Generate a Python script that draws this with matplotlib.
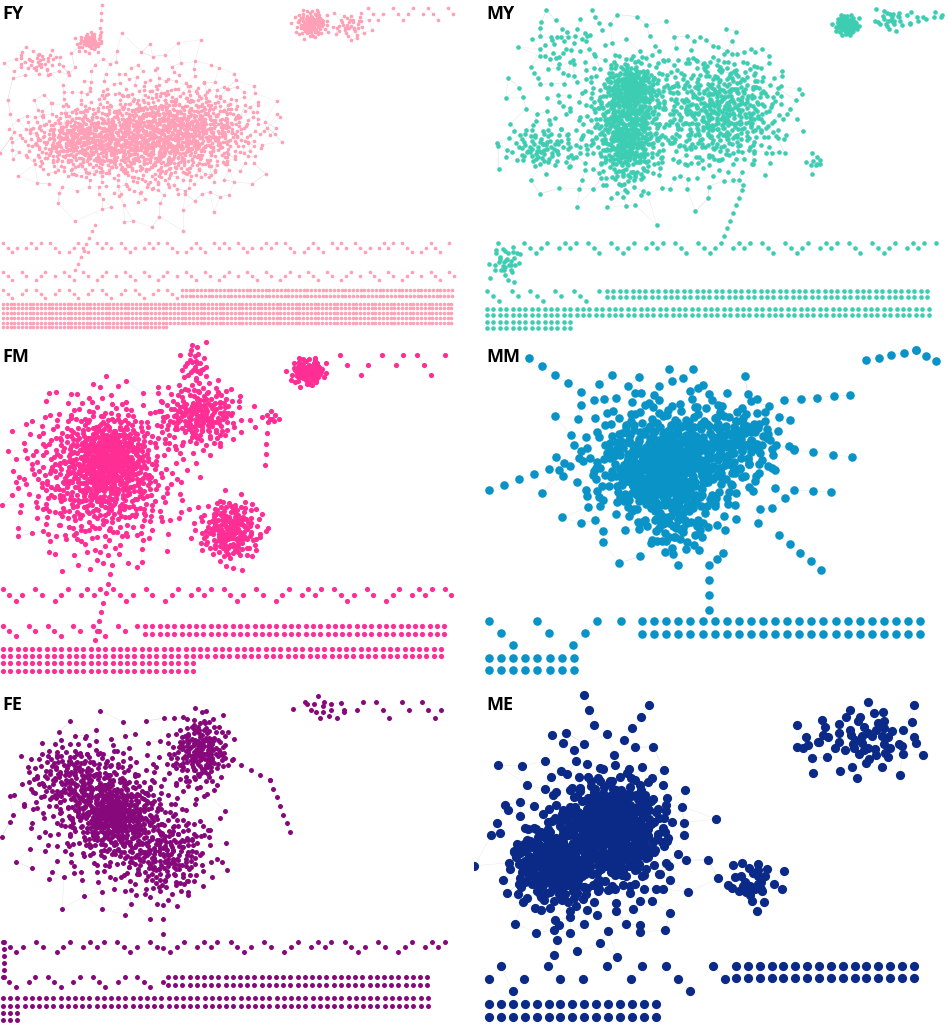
import numpy as np
import matplotlib.pyplot as plt
from matplotlib.collections import LineCollection

# panel order: name, colour, node diameter (px)
names = ["FY", "MY", "FM", "MM", "FE", "ME"]
colors = ["#FFA0B6", "#3CCDB2", "#FF2E95", "#0A93C7", "#87087A", "#0B2A88"]
node_px = [3.6, 4.6, 5.2, 8.6, 5.0, 9.2]
label_x = [2, 12, 2, 12, 2, 12]
label_y = [14, 14, 17, 17, 25, 25]

# dense components: (cx, cy, sx, sy, n nodes)
fy_blobs = [(80, 140, 30, 16, 400), (150, 140, 38, 22, 600), (195, 128, 35, 20, 420),
            (140, 132, 58, 40, 480), (90, 42, 7, 5, 55), (38, 62, 14, 7, 45),
            (311, 24, 8, 7, 110), (350, 26, 10, 7, 40)]
my_blobs = [(158, 88, 14, 14, 200), (152, 135, 16, 26, 360), (250, 110, 32, 30, 450),
            (68, 148, 20, 11, 80), (165, 115, 62, 43, 380), (88, 45, 18, 16, 40),
            (373, 25, 6, 5, 80), (416, 20, 9, 6, 25), (340, 162, 5, 5, 10),
            (32, 262, 9, 10, 35)]
fm_blobs = [(110, 118, 18, 20, 260), (100, 135, 40, 40, 650), (200, 75, 22, 17, 200),
            (230, 190, 16, 16, 190), (195, 25, 7, 12, 30), (272, 77, 4, 4, 8),
            (308, 32, 9, 7, 90)]
mm_blobs = [(190, 125, 30, 22, 220), (195, 122, 52, 42, 360), (265, 100, 22, 20, 90),
            (200, 178, 18, 20, 60)]
fe_blobs = [(115, 135, 20, 18, 300), (75, 100, 25, 20, 200), (165, 175, 25, 22, 200),
            (115, 135, 47, 42, 350), (200, 70, 15, 18, 180), (322, 28, 12, 8, 12)]
me_blobs = [(140, 148, 28, 28, 250), (78, 185, 20, 20, 170), (120, 165, 50, 48, 230),
            (280, 203, 15, 12, 30), (390, 60, 32, 18, 65)]

# chains: (x0, y0, x1, y1, n nodes)
fy_chains = [(95, 225, 75, 270, 8), (100, 35, 102, 5, 5)]
my_chains = [(428, 25, 468, 15, 6), (268, 190, 250, 236, 7), (118, 10, 128, 30, 4)]
fm_chains = [(112, 225, 95, 300, 9), (268, 82, 265, 125, 5)]
mm_chains = [(105, 118, 15, 150, 7), (120, 60, 55, 18, 6), (235, 225, 235, 270, 4),
             (320, 110, 378, 117, 4), (320, 150, 357, 152, 3), (305, 195, 347, 230, 5),
             (310, 60, 376, 55, 5), (392, 20, 442, 10, 5), (442, 10, 462, 21, 3)]
fe_chains = [(222, 75, 270, 100, 6), (270, 100, 290, 152, 7), (163, 225, 163, 268, 4),
             (4, 262, 4, 297, 6)]
me_chains = [(150, 60, 175, 25, 4), (100, 70, 78, 55, 3), (85, 245, 80, 275, 3),
             (120, 45, 110, 15, 3), (345, 62, 323, 67, 3)]

# zigzag rows of small components: (y, x0, x1, step, amp, shape) '-' = gap
fy_zig = [(243, 3, 450, 4.7, 4.5, "0121-1010-012-21012-0101-"),
          (272, 3, 455, 4.7, 4.0, "012-01-210-1-"),
          (290, 3, 178, 4.7, 4.0, "012-10-"),
          (8, 368, 455, 5.0, 6.0, "0121-01210-1012-")]
my_zig = [(243, 50, 462, 5.8, 5.0, "01210-1010-012-"),
          (291, 13, 130, 6.2, 5.0, "012-01-"),
          (12, 425, 470, 6.0, 5.0, "1-01")]
fm_zig = [(249, 3, 452, 6.5, 6.0, "0121-01-210-1010-"),
          (286, 3, 140, 6.4, 5.0, "012-01-"),
          (15, 340, 445, 7.0, 10.0, "01-21-0-10-012-")]
mm_zig = [(281, 15, 158, 12.0, 12.0, "012-01-210-01-012-012")]
fe_zig = [(262, 3, 448, 6.7, 5.0, "0121-01-210-1010-"),
          (297, 3, 165, 6.4, 5.0, "012-10-"),
          (22, 305, 443, 6.5, 8.0, "01-0121-10-012-")]
me_zig = [(286, 15, 255, 11.8, 12.5, "1021-01-1-0-10-012-01-1-012")]

# vertical pairs: (y_top, y_bottom, x0, x1, step)
fy_pairs = [(290, 295.5, 182, 453, 3.8)]
my_pairs = [(291, 297, 133, 456, 6.4)]
fm_pairs = [(286, 294, 145, 445, 7.3)]
mm_pairs = [(281, 294, 168, 458, 12.1)]
fe_pairs = [(297, 305, 168, 434, 7.2)]
me_pairs = [(286, 298, 262, 440, 11.85)]

# isolated nodes: (y, x0, x1, step)
fy_grid = [(303.5, 3, 452, 3.8), (308, 3, 452, 3.8), (313, 3, 452, 3.8),
           (318, 3, 452, 3.8), (322.5, 3, 452, 3.8), (327, 3, 168, 3.8)]
my_grid = [(309, 13, 456, 6.4), (315, 13, 456, 6.4), (322, 13, 98, 6.4), (328, 13, 98, 6.4)]
fm_grid = [(308.5, 3, 445, 7.3), (316, 3, 445, 7.3), (323, 3, 193, 7.3), (331, 3, 193, 7.3)]
mm_grid = [(318, 15, 100, 12.1), (330, 15, 100, 12.1)]
fe_grid = [(318, 3, 434, 7.2), (325.5, 3, 434, 7.2), (332.5, 3, 18, 7.2), (339.5, 3, 18, 7.2)]
me_grid = [(324, 15, 182, 11.9), (337, 15, 182, 11.9)]

blobs = [fy_blobs, my_blobs, fm_blobs, mm_blobs, fe_blobs, me_blobs]
chains = [fy_chains, my_chains, fm_chains, mm_chains, fe_chains, me_chains]
zigs = [fy_zig, my_zig, fm_zig, mm_zig, fe_zig, me_zig]
pairs = [fy_pairs, my_pairs, fm_pairs, mm_pairs, fe_pairs, me_pairs]
grids = [fy_grid, my_grid, fm_grid, mm_grid, fe_grid, me_grid]


def halton(idx, base):
    out = np.zeros(len(idx))
    f = 1.0
    i = idx.copy()
    while i.any():
        f /= base
        out += f * (i % base)
        i //= base
    return out


def blob_layout(cx, cy, sx, sy, n, start, cap=2.6):
    # low-discrepancy (Halton) points pushed through a gaussian radial profile
    idx = np.arange(start, start + n)
    u = halton(idx, 2) * (1 - np.exp(-cap ** 2 / 2))
    r = np.sqrt(-2 * np.log(1 - u))
    t = 2 * np.pi * halton(idx, 3)
    pts = np.column_stack([cx + sx * r * np.cos(t), cy + sy * r * np.sin(t)])
    # link every node to its two nearest neighbours
    d = np.hypot(pts[:, None, 0] - pts[None, :, 0], pts[:, None, 1] - pts[None, :, 1])
    np.fill_diagonal(d, np.inf)
    near = np.argsort(d, axis=1)[:, :2]
    segs = [(pts[a], pts[b]) for a in range(n) for b in near[a]]
    return pts, segs


def build(k):
    pts, segs = [], []
    for j, b in enumerate(blobs[k]):
        p, s = blob_layout(*b, start=1 + 811 * j)
        pts.append(p)
        segs += s
    for x0, y0, x1, y1, n in chains[k]:
        p = np.column_stack([np.linspace(x0, x1, n), np.linspace(y0, y1, n)])
        pts.append(p)
        segs += [(p[j], p[j + 1]) for j in range(n - 1)]
    for y, x0, x1, step, amp, shape in zigs[k]:
        row, prev, j, x = [], None, 0, x0
        while x <= x1:
            c = shape[j % len(shape)]
            if c == "-":
                prev = None
            else:
                q = np.array([x, y + amp * int(c)])
                row.append(q)
                if prev is not None:
                    segs.append((prev, q))
                prev = q
            j += 1
            x += step
        pts.append(np.array(row))
    for yt, yb, x0, x1, step in pairs[k]:
        xs = np.arange(x0, x1 + 0.01, step)
        top = np.column_stack([xs, np.full(len(xs), yt)])
        bot = np.column_stack([xs, np.full(len(xs), yb)])
        pts += [top, bot]
        segs += list(zip(top, bot))
    for y, x0, x1, step in grids[k]:
        xs = np.arange(x0, x1 + 0.01, step)
        pts.append(np.column_stack([xs, np.full(len(xs), y)]))
    return np.vstack(pts), segs


W, H = 948, 1024
fig = plt.figure(figsize=(W / 100, H / 100), dpi=100)
tops = [0, 0, 340, 340, 680, 680]
heights = [340, 340, 340, 340, 344, 344]

for k in range(6):
    col = k % 2
    ax = fig.add_axes([col * 0.5, 1 - (tops[k] + heights[k]) / H, 0.5, heights[k] / H])
    ax.set_xlim(0, 474)
    ax.set_ylim(heights[k], 0)
    ax.axis("off")
    pts, segs = build(k)
    ax.add_collection(LineCollection(segs, colors="#d6d6d6", linewidths=0.3,
                                     alpha=0.6, zorder=1))
    s = (node_px[k] * 0.72) ** 2
    ax.scatter(pts[:, 0], pts[:, 1], s=s, c=colors[k], linewidths=0, zorder=2)
    ax.text(label_x[k], label_y[k], names[k], fontsize=13, fontweight="bold",
            family=["Open Sans", "DejaVu Sans"], va="center", ha="left", zorder=3)

plt.savefig("out.png", dpi=100)
